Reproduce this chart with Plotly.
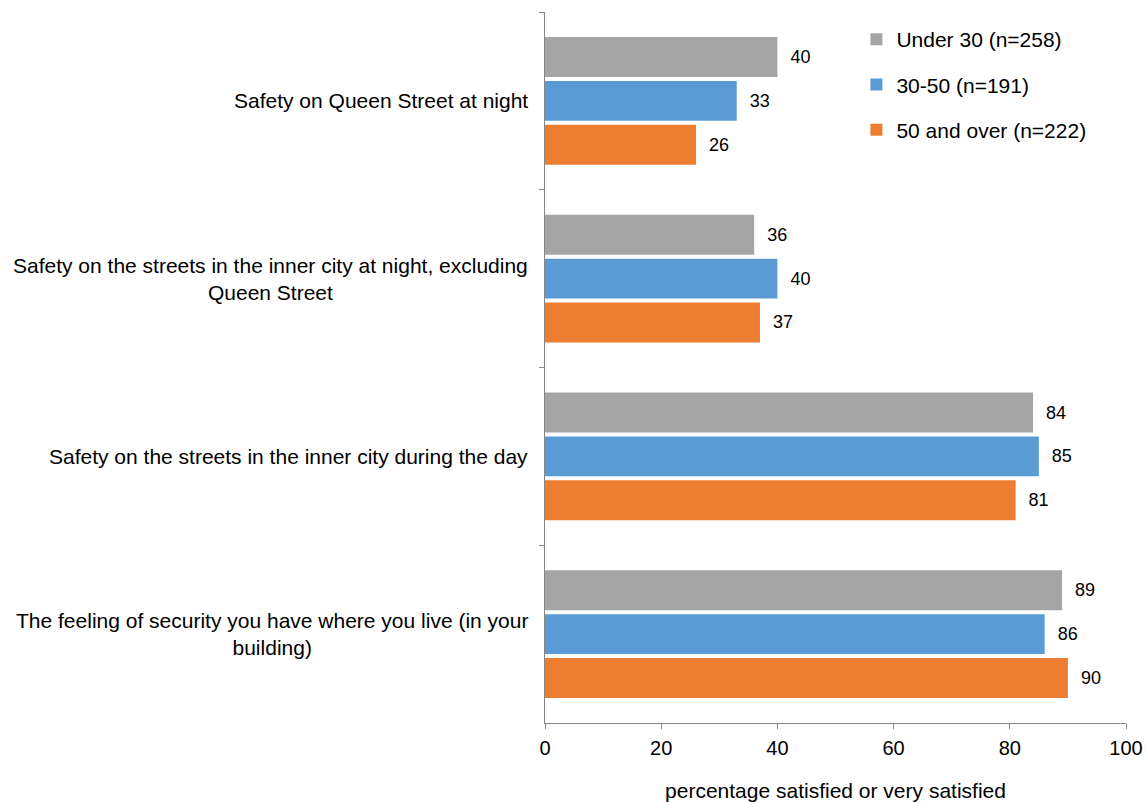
import plotly.graph_objects as go

categories = [
    "Safety on Queen Street at night",
    "Safety on the streets in the inner city at night, excluding<br>Queen Street",
    "Safety on the streets in the inner city during the day",
    "The feeling of security you have where you live (in your<br>building)",
]
series_names = ["Under 30 (n=258)", "30-50 (n=191)", "50 and over (n=222)"]
under30 = [40, 36, 84, 89]
age30_50 = [33, 40, 85, 86]
over50 = [26, 37, 81, 90]
colors = ["#A5A5A5", "#5B9BD5", "#ED7D31"]
x_ticks = [0, 20, 40, 60, 80, 100]
x_title = "percentage satisfied or very satisfied"

FONT = "Liberation Sans, Arial, sans-serif"

fig = go.Figure()
for i, (name, vals) in enumerate(zip(series_names, [under30, age30_50, over50])):
    fig.add_trace(go.Bar(
        y=categories, x=vals, orientation="h", name=name,
        marker=dict(color=colors[i], line=dict(width=0)),
        text=vals, texttemplate="\u00a0\u00a0%{x}", textposition="outside",
        textfont=dict(family=FONT, size=18, color="#000000"),
        cliponaxis=False, legendgroup=f"g{i}",
    ))

for c in categories:
    fig.add_annotation(
        x=0, xref="paper", y=c, yref="y", text=c, showarrow=False,
        xanchor="right", align="center", xshift=-15,
        font=dict(family=FONT, size=21, color="#000000"),
    )

fig.update_layout(
    width=1146, height=802,
    margin=dict(l=545, r=20, t=12, b=79),
    paper_bgcolor="white", plot_bgcolor="white",
    barmode="group", bargap=0.26, bargroupgap=0.09,
    font=dict(family=FONT, size=21, color="#000000"),
    legend=dict(x=0.536, y=0.99, xanchor="left", yanchor="top",
                font=dict(family=FONT, size=21, color="#000000"),
                tracegroupgap=15, itemwidth=30, bgcolor="rgba(0,0,0,0)"),
    showlegend=True,
)
fig.update_xaxes(
    range=[0, 100], tickvals=x_ticks, showgrid=False, zeroline=False,
    showline=True, linecolor="#868686", linewidth=1, automargin=False,
    ticks="outside", ticklen=5, tickcolor="#868686", ticklabelstandoff=2,
    tickfont=dict(family=FONT, size=20, color="#000000"),
    title=dict(text=x_title, standoff=25, font=dict(family=FONT, size=21, color="#000000")),
)
fig.update_yaxes(
    autorange="reversed", showticklabels=False, showgrid=False, zeroline=False,
    showline=True, linecolor="#868686", linewidth=1, automargin=False,
    ticks="outside", ticklen=5, tickcolor="#868686", tickson="boundaries",
)

fig.write_html("out.html")
